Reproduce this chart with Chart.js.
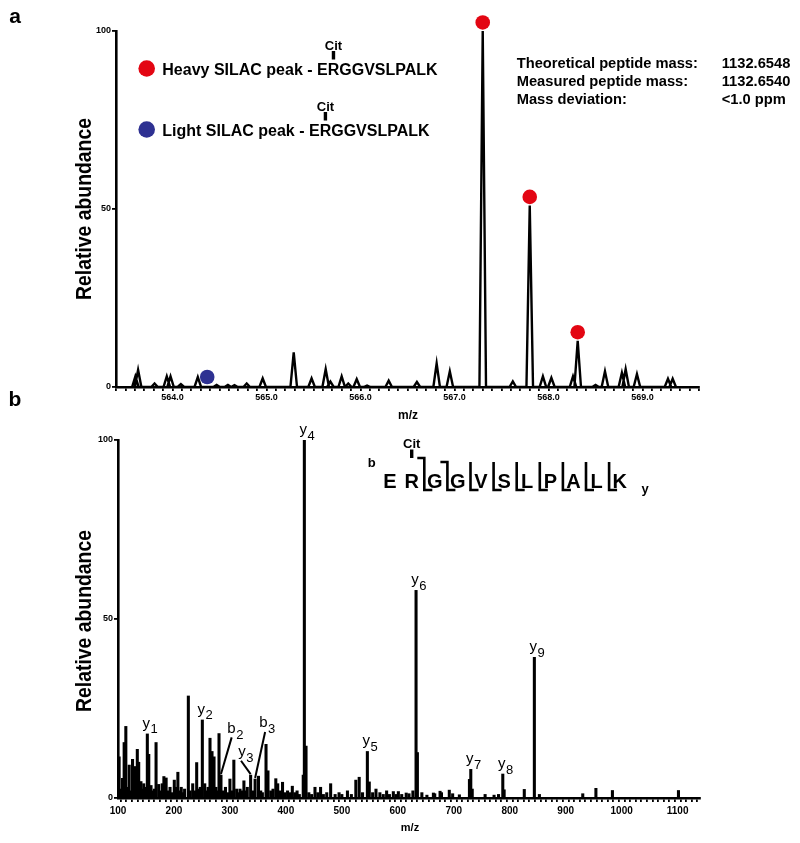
<!DOCTYPE html>
<html>
<head>
<meta charset="utf-8">
<script src="https://cdn.jsdelivr.net/npm/chart.js"></script>
<style>
  html, body { margin: 0; padding: 0; background: #fff; }
  #wrap { position: relative; width: 800px; height: 843px; }
  #wrap canvas { position: absolute; left: 0; top: 0; }
</style>
</head>
<body>
<div id="wrap">
  <canvas id="chartA" width="800" height="843"></canvas>
  <canvas id="chartB" width="800" height="843"></canvas>
</div>
<script>
// panel a : MS1 survey scan (profile peaks)
const ms1Mz = [563.606, 563.635, 563.81, 563.94, 563.98, 564.09, 564.27, 564.47, 564.59, 564.66, 564.79, 564.96,
  565.29, 565.48, 565.63, 565.68, 565.80, 565.87, 565.96, 566.07, 566.30, 566.60, 566.81, 566.95,
  567.30, 567.62, 567.80, 567.94, 568.03, 568.26, 568.31, 568.50, 568.60, 568.78, 568.82, 568.94, 569.27, 569.32];
const ms1Int = [3.0, 4.8, 1.0, 3.0, 3.0, 0.8, 2.8, 0.6, 0.6, 0.5, 1.0, 2.4,
  9.7, 2.4, 5.0, 1.5, 3.0, 1.0, 2.2, 0.4, 1.8, 1.4, 6.6, 4.4,
  100, 1.6, 51, 3.0, 2.6, 3.0, 13, 0.6, 4.4, 4.0, 5.0, 3.6, 2.3, 2.3];
const heavyMz = [567.30, 567.80, 568.31];
const heavyInt = [100, 51, 13];
const lightMz = [564.37];
const lightInt = [0.4];

// panel b : MS/MS spectrum (centroid sticks)
const ms2Mz = [102, 104, 108, 111, 114, 117, 120, 123, 126, 130, 134.5, 137, 141, 143, 146, 149, 152.4, 155, 159, 162,
  165, 168, 172.7, 176, 179, 182, 186, 189, 193, 196, 200.6, 203, 207, 210, 213, 216, 219, 225.7, 229, 233.5,
  237, 240.6, 244, 247, 250.7, 255, 258, 261, 264.4, 268, 271.6, 275, 278, 280.5, 284, 288, 292, 296, 300, 304,
  307, 312, 315, 318, 322, 325, 328, 331, 337, 341, 345, 351, 355, 358, 364.5, 368, 373, 377, 382, 385.4,
  389, 394, 398, 403, 407, 411.5, 416, 420, 424, 431, 433, 436, 441, 446, 452, 457, 462, 467, 473, 480,
  488, 495, 500, 510, 517, 525, 531, 537, 545.6, 549, 555, 561, 568, 574, 580, 585, 592, 597, 601, 607,
  615, 620, 627, 632.6, 635, 643, 652, 663.6, 666, 675.5, 678, 692, 698, 710, 728, 730.4, 733, 756, 772, 780,
  787.6, 790, 826, 844, 853, 930.5, 954, 983.5, 1101.5];
const ms2Int = [11.5, 2.5, 5.5, 15.5, 20, 3, 9.2, 2, 10.8, 8.8, 13.6, 10, 4.6, 2.5, 4, 3, 17.9, 12.2, 3.5, 2,
  2.5, 15.5, 3.8, 2, 4, 6, 5.6, 2, 3, 1.5, 5, 3, 7.2, 2, 3, 1.5, 2.5, 28.5, 2, 4,
  2, 9.9, 2.5, 3, 21.8, 4, 2, 3, 16.7, 13, 11.5, 3, 2, 18, 6.4, 2, 3, 1.5, 5.3, 2,
  10.6, 2.5, 1.5, 2.5, 2, 4.8, 2, 3, 6.4, 2, 5.3, 6.1, 2, 1.5, 15, 7.6, 2, 2.5, 5.4, 4,
  2, 4.4, 1.5, 2, 1.5, 3.3, 1.5, 2, 1, 6.4, 100, 14.5, 1.5, 1, 3, 1.5, 3, 1, 1.5, 4,
  1, 1.5, 1, 2, 1, 5, 5.8, 1.5, 13, 4.5, 1.5, 2.5, 1.5, 1, 2, 1, 1.8, 1, 1.8, 1,
  1.4, 1.2, 2, 58, 12.7, 1.5, 0.8, 1.4, 1.2, 1.9, 1.5, 2.2, 1.2, 0.9, 5.2, 8, 2.5, 1, 0.8, 1,
  6.7, 2.3, 2.4, 39.3, 1, 1.2, 2.7, 2.1, 2.1];

const ionType = ['y', 'y', 'b', 'y', 'b', 'y', 'y', 'y', 'y', 'y', 'y'];
const ionNum = ['1', '2', '2', '3', '3', '4', '5', '6', '7', '8', '9'];
const ionMz = [152.4, 250.7, 284, 337, 345, 433, 545.6, 632.6, 730.4, 787.6, 844];
const peptide = ['E', 'R', 'G', 'G', 'V', 'S', 'L', 'P', 'A', 'L', 'K'];

const FONT = '"Liberation Sans", Arial, Helvetica, sans-serif';
const RED = '#e30613';
const BLUE = '#2e3192';

// profile line: each peak as a narrow triangle on the baseline
const halfWidth = 0.035;
const profile = [];
ms1Mz.forEach((m, i) => {
  profile.push({ x: m - halfWidth, y: 0 }, { x: m, y: ms1Int[i] }, { x: m + halfWidth, y: 0 });
});
const markerLift = 2.4;
const heavyPts = heavyMz.map((m, i) => ({ x: m, y: heavyInt[i] + markerLift }));
const lightPts = lightMz.map((m, i) => ({ x: m, y: lightInt[i] + markerLift }));
const ms2Pts = ms2Mz.map((m, i) => ({ x: m, y: ms2Int[i] }));

function vText(ctx, txt, x, y, size, squeeze) {
  ctx.save();
  ctx.translate(x, y);
  ctx.rotate(-Math.PI / 2);
  ctx.scale(squeeze, 1);
  ctx.font = 'bold ' + size + 'px ' + FONT;
  ctx.textAlign = 'center';
  ctx.textBaseline = 'alphabetic';
  ctx.fillText(txt, 0, 0);
  ctx.restore();
}

function citMark(ctx, cx, baseY) {
  ctx.font = 'bold 13px ' + FONT;
  ctx.textAlign = 'center';
  ctx.fillText('Cit', cx, baseY);
  ctx.fillRect(cx - 1.7, baseY + 1.5, 3.4, 8.5);
}

const ms1Deco = {
  id: 'ms1Deco',
  afterDraw(chart) {
    const ctx = chart.ctx;
    ctx.save();
    ctx.fillStyle = '#000';
    ctx.textBaseline = 'alphabetic';
    ctx.font = 'bold 21px ' + FONT;
    ctx.textAlign = 'center';
    ctx.fillText('a', 15, 23);
    ctx.fillText('b', 15, 406);

    vText(ctx, 'Relative abundance', 91, 209, 22, 0.88);
    ctx.font = 'bold 12px ' + FONT;
    ctx.fillText('m/z', 408, 419);

    // legend rows
    const rows = [[RED, 'Heavy SILAC peak - ', 75], [BLUE, 'Light SILAC peak - ', 136]];
    rows.forEach(r => {
      ctx.fillStyle = r[0];
      ctx.beginPath();
      ctx.arc(146.7, r[2] - 6.5, 8.3, 0, Math.PI * 2);
      ctx.fill();
      ctx.fillStyle = '#000';
      ctx.font = 'bold 16px ' + FONT;
      ctx.textAlign = 'left';
      const seq = peptide.join('');
      ctx.fillText(r[1] + seq, 162.3, r[2]);
      const pre = ctx.measureText(r[1] + 'E').width;
      const rw = ctx.measureText('R').width;
      citMark(ctx, 162.3 + pre + rw / 2, r[2] - 25.5);
    });

    // mass info
    ctx.font = 'bold 14.7px ' + FONT;
    ctx.textAlign = 'left';
    const info = [['Theoretical peptide mass:', '1132.6548'], ['Measured peptide mass:', '1132.6540'], ['Mass deviation:', '<1.0 ppm']];
    info.forEach((row, i) => {
      ctx.fillText(row[0], 516.7, 67.7 + i * 18.3);
      ctx.fillText(row[1], 721.7, 67.7 + i * 18.3);
    });
    ctx.restore();
  }
};

const ms2Deco = {
  id: 'ms2Deco',
  afterDraw(chart) {
    const ctx = chart.ctx, xs = chart.scales.x, ys = chart.scales.y;
    ctx.save();
    ctx.fillStyle = '#000';
    ctx.strokeStyle = '#000';
    ctx.textBaseline = 'alphabetic';
    vText(ctx, 'Relative abundance', 91, 621, 22, 0.88);
    ctx.font = 'bold 11px ' + FONT;
    ctx.textAlign = 'center';
    ctx.fillText('m/z', 410, 831);

    // fragment ion labels
    const leaders = { b2: [10.5, -42, 10.7, -37.7], y3: [-8.6, -19, -9.6, -14.3], b3: [8.2, -52, 10, -47] };
    ionMz.forEach((m, i) => {
      const k = ms2Mz.indexOf(m);
      const bx = xs.getPixelForValue(m);
      const top = ys.getPixelForValue(ms2Int[k]);
      const name = ionType[i] + ionNum[i];
      let lx = bx - 1, ly = top - 6;
      const L = leaders[name];
      if (L) {
        lx = bx + L[0];
        ly = top + L[1];
        ctx.lineWidth = 2;
        ctx.beginPath();
        ctx.moveTo(bx, top - 1);
        ctx.lineTo(bx + L[2], top + L[3]);
        ctx.stroke();
      }
      ctx.font = '15px ' + FONT;
      ctx.textAlign = 'center';
      ctx.fillText(ionType[i], lx, ly);
      const w = ctx.measureText(ionType[i]).width;
      ctx.font = '13px ' + FONT;
      ctx.textAlign = 'left';
      ctx.fillText(ionNum[i], lx + w / 2 + 0.5, ly + 5.5);
    });

    // peptide fragmentation map
    const letterX = i => (i === 0 ? 390 : 411.7 + (i - 1) * 23.1);
    ctx.font = 'bold 20px ' + FONT;
    ctx.textAlign = 'center';
    peptide.forEach((a, i) => ctx.fillText(a, letterX(i), 488));
    ctx.lineWidth = 2.6;
    for (let i = 1; i < peptide.length - 1; i++) {
      const bx = letterX(i + 1) - 10.5;
      const topY = i === 1 ? 458 : 462;
      ctx.beginPath();
      if (i <= 2) {
        ctx.moveTo(bx - 7, topY);
        ctx.lineTo(bx, topY);
      } else {
        ctx.moveTo(bx, topY);
      }
      ctx.lineTo(bx, 490);
      ctx.lineTo(bx + 8, 490);
      ctx.stroke();
    }
    citMark(ctx, letterX(1), 448);
    ctx.font = 'bold 13px ' + FONT;
    ctx.textAlign = 'center';
    ctx.fillText('b', 371.7, 467);
    ctx.fillText('y', 645, 493);
    ctx.restore();
  }
};

const tickFont = { family: FONT, size: 9, weight: 'bold' };
function axisStyle() {
  return {
    grid: { drawOnChartArea: false, drawTicks: true, tickLength: 4, color: '#000', tickColor: '#000', lineWidth: 1.8 },
    border: { display: true, color: '#000', width: 2.6 }
  };
}

new Chart(document.getElementById('chartA'), {
  type: 'line',
  data: {
    datasets: [
      { data: heavyPts, showLine: false, pointRadius: 7.3, pointHoverRadius: 12, pointBackgroundColor: RED, pointBorderWidth: 0, clip: false, order: 0 },
      { data: lightPts, showLine: false, pointRadius: 7.3, pointHoverRadius: 12, pointBackgroundColor: BLUE, pointBorderWidth: 0, clip: false, order: 0 },
      { data: profile, borderColor: '#000', borderWidth: 2.4, pointRadius: 0, tension: 0, fill: false, order: 1 }
    ]
  },
  options: {
    responsive: false,
    animation: false,
    events: [],
    layout: { padding: { left: 0, top: 31, right: 101, bottom: 423 } },
    plugins: { legend: { display: false }, tooltip: { enabled: false } },
    scales: {
      x: Object.assign(axisStyle(), {
        type: 'linear', min: 563.4, max: 569.6, offset: false,
        ticks: {
          stepSize: 0.1, autoSkip: false, maxRotation: 0, padding: 1, color: '#000', font: tickFont,
          callback: v => (Math.abs(v - Math.round(v)) < 1e-6 ? v.toFixed(1) : '')
        },
        afterFit: s => { s.height = 33; }
      }),
      y: Object.assign(axisStyle(), {
        min: 0, max: 100,
        ticks: { stepSize: 50, padding: 1, color: '#000', font: tickFont },
        afterFit: s => { s.width = 116; }
      })
    }
  },
  plugins: [ms1Deco]
});

new Chart(document.getElementById('chartB'), {
  type: 'bar',
  data: {
    datasets: [{ data: ms2Pts, backgroundColor: '#000', borderWidth: 0, barThickness: 2.4 }]
  },
  options: {
    responsive: false,
    animation: false,
    events: [],
    layout: { padding: { left: 0, top: 440, right: 100, bottom: 0 } },
    plugins: { legend: { display: false }, tooltip: { enabled: false } },
    scales: {
      x: Object.assign(axisStyle(), {
        type: 'linear', min: 100, max: 1140, offset: false,
        ticks: {
          stepSize: 10, autoSkip: false, maxRotation: 0, padding: 3, color: '#000',
          font: { family: FONT, size: 10, weight: 'bold' },
          callback: v => (Math.round(v) % 100 === 0 ? String(Math.round(v)) : '')
        },
        afterFit: s => { s.height = 45; }
      }),
      y: Object.assign(axisStyle(), {
        min: 0, max: 100,
        ticks: { stepSize: 50, padding: 1, color: '#000', font: tickFont },
        afterFit: s => { s.width = 118; }
      })
    }
  },
  plugins: [ms2Deco]
});
</script>
</body>
</html>
